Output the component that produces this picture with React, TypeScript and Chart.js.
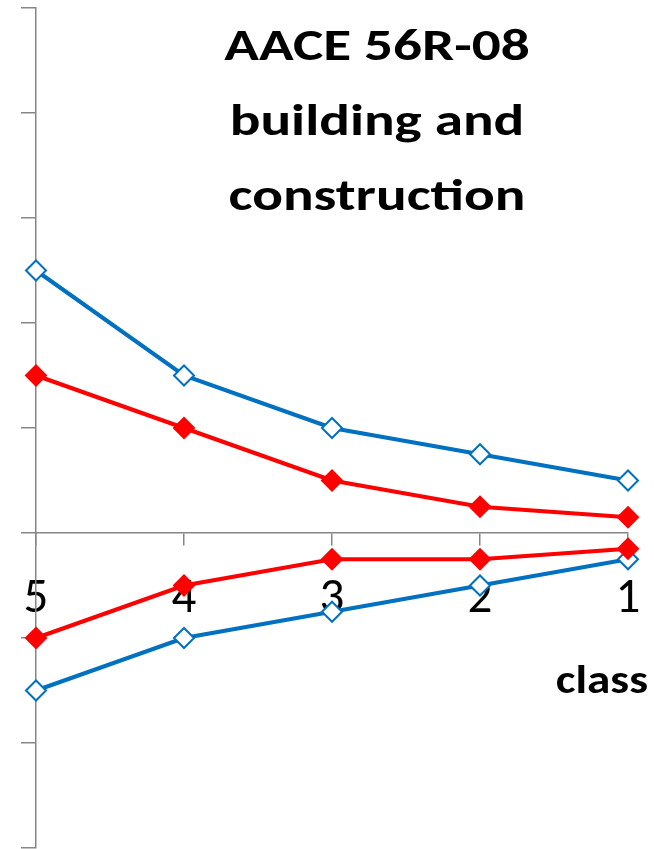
import React, { useEffect, useRef } from "react";
import { Chart, registerables } from "chart.js";

Chart.register(...registerables);

const classes = ["5", "4", "3", "2", "1"];
const blueHigh = [50, 30, 20, 15, 10];
const redHigh = [30, 20, 10, 5, 3];
const redLow = [-20, -10, -5, -5, -3];
const blueLow = [-30, -20, -15, -10, -5];
const titleLines = ["AACE 56R-08", "building and", "construction"];
const xAxisTitle = "class";

const BLUE = "#0070C0";
const RED = "#FF0000";
const GRAY = "#868686";
const FONT = "Carlito, Lato";

const textPlugin = {
  id: "textPlugin",
  afterDraw(chart: any) {
    const ctx = chart.ctx;
    ctx.save();
    ctx.fillStyle = "#000";
    ctx.font = `bold 44px ${FONT}`;
    ctx.textAlign = "center";
    ctx.textBaseline = "alphabetic";
    const ys = [60, 135, 210];
    titleLines.forEach((t, i) => {
      ctx.save();
      ctx.translate(377, ys[i]);
      ctx.scale(1.3, 1);
      ctx.fillText(t, 0, 0);
      ctx.restore();
    });
    ctx.font = `bold 40px ${FONT}`;
    ctx.save();
    ctx.translate(648, 693);
    ctx.scale(1.18, 1);
    ctx.textAlign = "right";
    ctx.fillText(xAxisTitle, 0, 0);
    ctx.restore();
    ctx.restore();
  },
};

export default function App() {
  const ref = useRef<HTMLCanvasElement>(null);
  useEffect(() => {
    document.body.style.margin = "0";
    const mk = (label: string, data: number[], color: string, filled: boolean) => ({
      label,
      data,
      borderColor: color,
      borderWidth: 4,
      backgroundColor: filled ? color : "#ffffff",
      pointStyle: "rectRot",
      pointRadius: 10,
      pointBorderWidth: 2,
      pointBorderColor: color,
      pointBackgroundColor: filled ? color : "#ffffff",
      tension: 0,
      fill: false,
      clip: false,
    });
    const chart = new Chart(ref.current!, {
      type: "line",
      data: {
        labels: classes,
        datasets: [
          mk("high (wide)", blueHigh, BLUE, false),
          mk("high (narrow)", redHigh, RED, true),
          mk("low (narrow)", redLow, RED, true),
          mk("low (wide)", blueLow, BLUE, false),
        ],
      },
      options: {
        animation: false,
        responsive: false,
        maintainAspectRatio: false,
        layout: { autoPadding: false, padding: { top: 8, right: 26, bottom: 1, left: 0 } },
        plugins: { legend: { display: false }, tooltip: { enabled: false } },
        scales: {
          x: {
            type: "category",
            position: { y: 0 } as any,
            offset: false,
            grid: { drawOnChartArea: false, drawTicks: true, tickLength: 12, color: GRAY, lineWidth: 1.5 },
            border: { color: GRAY, width: 1.5 },
            ticks: { color: "#000", font: { family: FONT, size: 49 }, padding: 25, maxRotation: 0, autoSkip: false },
            afterFit: (s: any) => { s.height = 0; s.paddingLeft = 0; s.paddingRight = 0; },
          },
          y: {
            min: -60,
            max: 100,
            grid: { drawOnChartArea: false, drawTicks: true, tickLength: 15, color: GRAY, lineWidth: 1.5 },
            border: { color: GRAY, width: 1.5 },
            ticks: { stepSize: 20, display: false },
            afterFit: (s: any) => { s.width = 36; },
          },
        },
      },
      plugins: [textPlugin],
    });
    return () => chart.destroy();
  }, []);
  return <canvas ref={ref} width={654} height={849} style={{ display: "block" }} />;
}
